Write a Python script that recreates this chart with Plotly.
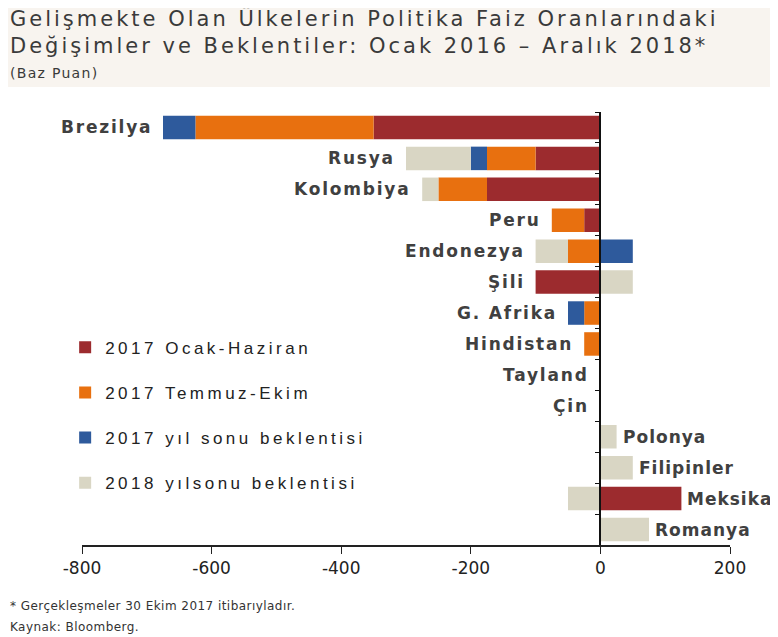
import plotly.graph_objects as go

countries = ["Brezilya", "Rusya", "Kolombiya", "Peru", "Endonezya", "Şili", "G. Afrika",
             "Hindistan", "Tayland", "Çin", "Polonya", "Filipinler", "Meksika", "Romanya"]
ocak_haziran_2017 = [-350, -100, -175, -25, 0, -100, 0, 0, 0, 0, 0, 0, 125, 0]
temmuz_ekim_2017 = [-275, -75, -75, -50, -50, 0, -25, -25, 0, 0, 0, 0, 0, 0]
yilsonu_2017 = [-50, -25, 0, 0, 50, 0, -25, 0, 0, 0, 0, 0, 0, 0]
yilsonu_2018 = [0, -100, -25, 0, -50, 50, 0, 0, 0, 0, 25, 50, -50, 75]
series_names = ["2017 Ocak-Haziran", "2017 Temmuz-Ekim", "2017 yıl sonu beklentisi", "2018 yılsonu beklentisi"]
x_ticks = [-800, -600, -400, -200, 0, 200]
x_tick_labels = ["-800", "-600", "-400", "-200", "0", "200"]

colors = ["#9c2b2e", "#e8700f", "#2e5a9c", "#d9d6c4"]
series = [ocak_haziran_2017, temmuz_ekim_2017, yilsonu_2017, yilsonu_2018]

LS = "letter-spacing:{}px"

def spaced(text, px):
    return f"<span style='{LS.format(px)}'>{text}</span>"

fig = go.Figure()
for i, (name, vals) in enumerate(zip(series_names, series)):
    fig.add_trace(go.Bar(
        y=countries, x=vals, name=spaced(name, 3.5), orientation="h",
        marker=dict(color=colors[i], line=dict(width=0)),
        legendgroup=f"g{i}", width=0.76,
    ))

label_font = dict(family="DejaVu Sans", size=17, color="#404040", weight="bold")
annotations = []
for k, c in enumerate(countries):
    neg = sum(min(s[k], 0) for s in series)
    pos = sum(max(s[k], 0) for s in series)
    if pos > -neg:
        annotations.append(dict(x=pos, y=c, xref="x", yref="y", text=spaced(c, 1.0), showarrow=False,
                                xanchor="left", xshift=4, font=label_font))
    else:
        annotations.append(dict(x=neg, y=c, xref="x", yref="y", text=spaced(c, 1.8), showarrow=False,
                                xanchor="right", xshift=-9, font=label_font))

text_font = "DejaVu Sans, sans-serif"
annotations.append(dict(
    xref="paper", yref="paper", x=-0.114, y=1.249, xanchor="left", yanchor="top", align="left",
    text=spaced("Gelişmekte Olan Ülkelerin Politika Faiz Oranlarındaki", 3.0) + "<br>"
         + spaced("Değişimler ve Beklentiler: Ocak 2016 – Aralık 2018*", 3.0),
    showarrow=False, font=dict(family=text_font, size=21, color="#3a3a3a")))
annotations.append(dict(
    xref="paper", yref="paper", x=-0.114, y=1.066, xanchor="left", yanchor="bottom", align="left",
    text=spaced("(Baz Puan)", 1.3), showarrow=False, font=dict(family=text_font, size=14, color="#3a3a3a")))
annotations.append(dict(
    xref="paper", yref="paper", x=-0.114, y=-0.142, xanchor="left", yanchor="middle", align="left",
    text=spaced("* Gerçekleşmeler 30 Ekim 2017 itibarıyladır.", 0.45),
    showarrow=False, font=dict(family=text_font, size=12, color="#333333")))
annotations.append(dict(
    xref="paper", yref="paper", x=-0.114, y=-0.189, xanchor="left", yanchor="middle", align="left",
    text=spaced("Kaynak: Bloomberg.", 0.45),
    showarrow=False, font=dict(family=text_font, size=12, color="#333333")))

fig.update_layout(
    width=778, height=637,
    margin=dict(l=74, r=56, t=104, b=100),
    barmode="relative",
    paper_bgcolor="white", plot_bgcolor="white",
    showlegend=True,
    legend=dict(x=-0.026, y=0.497, xanchor="left", yanchor="top", traceorder="grouped",
                tracegroupgap=20, bgcolor="rgba(0,0,0,0)",
                font=dict(family="Liberation Sans, Arial", size=17, color="#222222"),
                itemwidth=30),
    annotations=annotations,
    shapes=[dict(type="rect", xref="paper", yref="paper", x0=-0.2, x1=1.2, y0=1.058, y1=1.3,
                 fillcolor="#f8f4ef", line=dict(width=0), layer="below")],
)
fig.update_xaxes(range=[-800, 200], tickvals=x_ticks, ticktext=x_tick_labels, showgrid=False, zeroline=False,
                 showline=True, linecolor="#222222", linewidth=1.5, ticks="outside",
                 ticklen=7, tickcolor="#222222",
                 tickfont=dict(family=text_font, size=17, color="#222222"))
fig.update_yaxes(type="category", autorange="reversed", showticklabels=False, showgrid=False,
                 zeroline=False, showline=True, linecolor="#111111", linewidth=1.5,
                 ticks="outside", tickson="boundaries", ticklen=5, tickcolor="#111111",
                 anchor="free", position=0.8)

fig.write_html("out.html")
